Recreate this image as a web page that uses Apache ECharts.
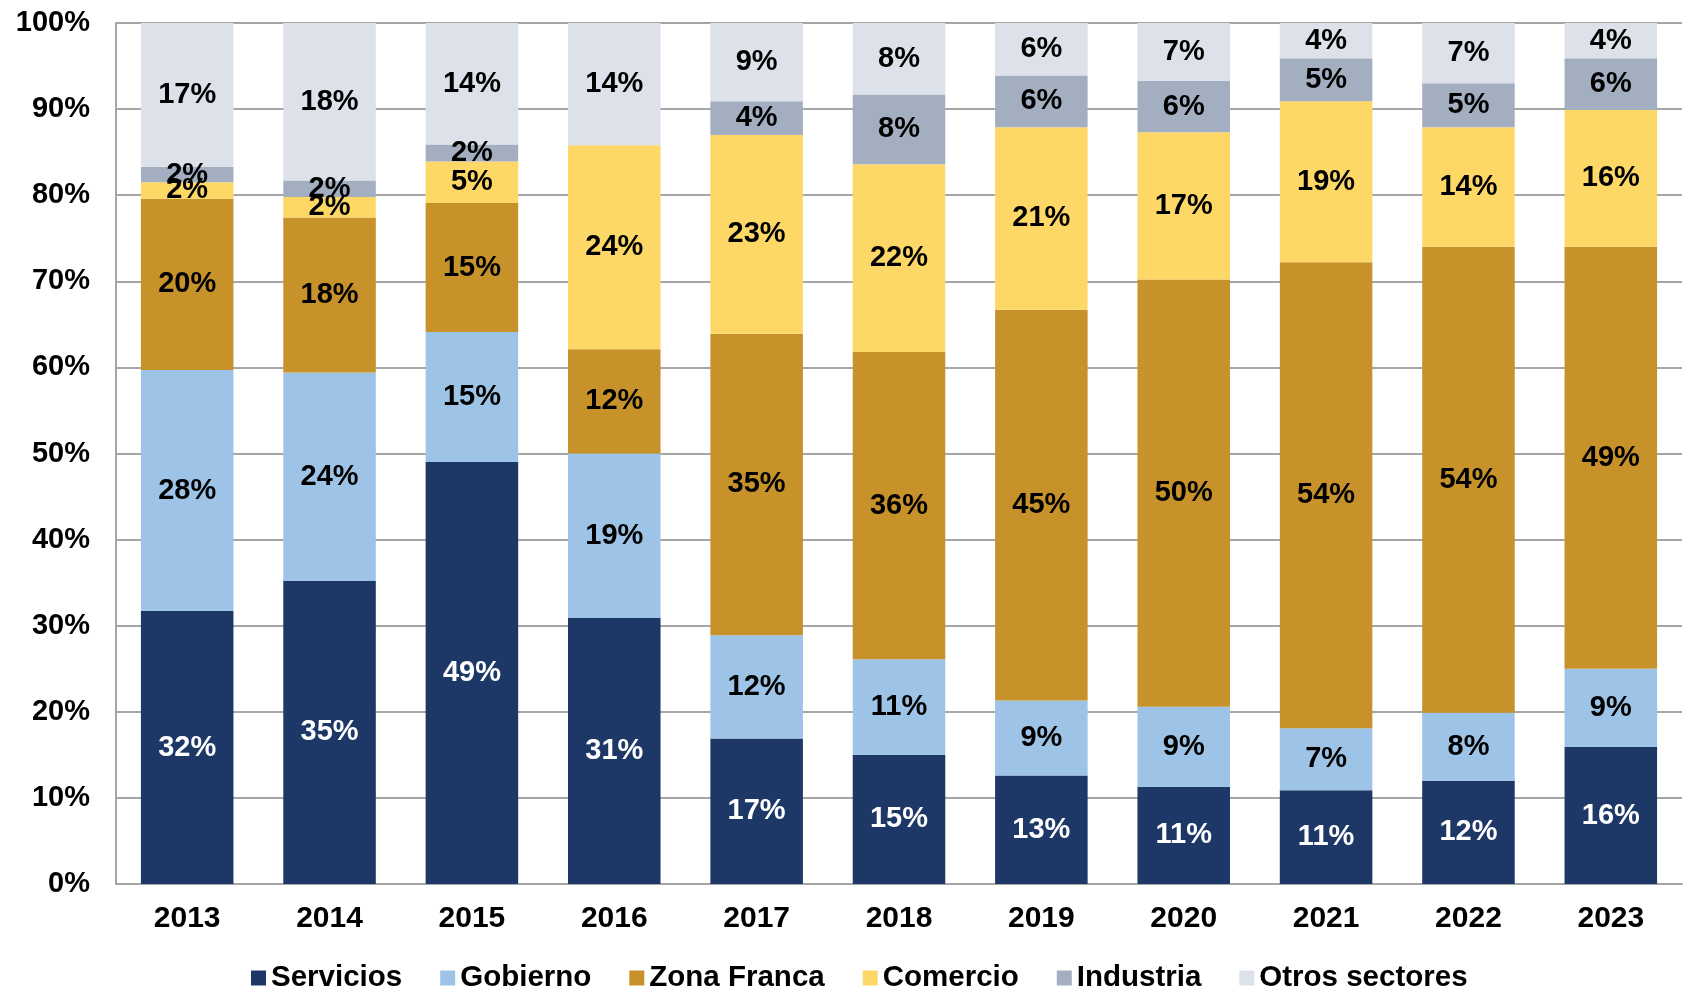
<!DOCTYPE html>
<html>
<head>
<meta charset="utf-8">
<script src="https://cdn.jsdelivr.net/npm/echarts@6/dist/echarts.min.js"></script>
<style>
  html, body { margin: 0; padding: 0; background: #ffffff; }
  #chart { width: 1691px; height: 992px; }
</style>
</head>
<body>
<div id="chart"></div>
<script>
// Years on the category axis
const years = ['2013', '2014', '2015', '2016', '2017', '2018', '2019', '2020', '2021', '2022', '2023'];

// Share of each sector per year (percent of total)
const servicios   = [31.7, 35.2, 49.0, 30.9, 16.9, 15.0, 12.6, 11.3, 10.9, 12.0, 15.9];
const gobierno    = [28.0, 24.2, 15.1, 19.1, 12.0, 11.1,  8.7,  9.3,  7.2,  7.9,  9.1];
const zonaFranca  = [19.9, 18.0, 15.0, 12.1, 35.0, 35.7, 45.4, 49.6, 54.1, 54.1, 49.0];
const comercio    = [ 1.9,  2.4,  4.8, 23.7, 23.1, 21.8, 21.2, 17.1, 18.7, 13.9, 15.9];
const industria   = [ 1.8,  1.9,  2.0,  0.0,  3.9,  8.1,  6.0,  6.0,  5.0,  5.1,  6.0];
const otros       = [16.7, 18.3, 14.1, 14.2,  9.1,  8.3,  6.1,  6.7,  4.1,  7.0,  4.1];

// Value-axis ticks
const yTicks = [0, 10, 20, 30, 40, 50, 60, 70, 80, 90, 100];

const FONT = '"Liberation Sans", Arial, sans-serif';

const seriesDefs = [
  { name: 'Servicios',      data: servicios,  color: '#1D3767', label: '#ffffff' },
  { name: 'Gobierno',       data: gobierno,   color: '#9DC3E6', label: '#000000' },
  { name: 'Zona Franca',    data: zonaFranca, color: '#C8922A', label: '#000000' },
  { name: 'Comercio',       data: comercio,   color: '#FED866', label: '#000000' },
  { name: 'Industria',      data: industria,  color: '#A3AFC0', label: '#000000' },
  { name: 'Otros sectores', data: otros,      color: '#DDE1EA', label: '#000000' }
];

const chart = echarts.init(document.getElementById('chart'), null, { renderer: 'canvas' });

chart.setOption({
  animation: false,
  backgroundColor: '#ffffff',
  textStyle: { fontFamily: FONT },
  grid: { left: 116, right: 9, top: 23, bottom: 108, containLabel: false },
  legend: {
    left: 246,
    top: 958,
    itemWidth: 15,
    itemHeight: 15,
    itemGap: 38,
    icon: 'rect',
    textStyle: { fontFamily: FONT, fontSize: 29.5, fontWeight: 'bold', color: '#000000' },
    data: seriesDefs.map(s => s.name)
  },
  xAxis: {
    type: 'category',
    data: years,
    axisLine: { show: true, lineStyle: { color: '#A6A6A6', width: 2 } },
    axisTick: { show: false },
    axisLabel: { fontFamily: FONT, fontSize: 30, fontWeight: 'bold', color: '#000000', margin: 20 }
  },
  yAxis: {
    type: 'value',
    min: yTicks[0],
    max: yTicks[yTicks.length - 1],
    interval: yTicks[1] - yTicks[0],
    axisLine: { show: true, lineStyle: { color: '#A6A6A6', width: 2 } },
    axisTick: { show: false },
    splitLine: { show: true, lineStyle: { color: '#A6A6A6', width: 2 } },
    axisLabel: {
      fontFamily: FONT, fontSize: 29, fontWeight: 'bold', color: '#000000', margin: 26,
      formatter: v => v + '%'
    }
  },
  series: seriesDefs.map(s => ({
    name: s.name,
    type: 'bar',
    stack: 'total',
    barCategoryGap: '35%',
    data: s.data,
    itemStyle: { color: s.color },
    label: {
      show: true,
      position: 'inside',
      fontFamily: FONT,
      fontSize: 29,
      fontWeight: 'bold',
      color: s.label,
      formatter: p => (p.value > 0 ? Math.round(p.value) + '%' : '')
    }
  }))
});
</script>
</body>
</html>
